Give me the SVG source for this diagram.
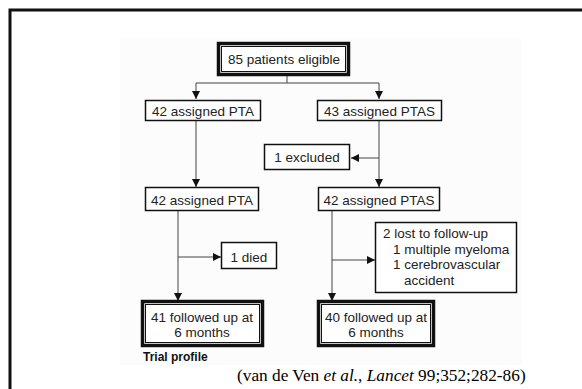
<svg xmlns="http://www.w3.org/2000/svg" width="582" height="389" viewBox="0 0 582 389">
<style>
.box{fill:#fff;stroke:#111;stroke-width:1.5}
.thick{fill:#fff;stroke:#111;stroke-width:3.5}
.inner{fill:none;stroke:#111;stroke-width:1}
.t{font-family:"Liberation Sans",Arial,sans-serif;font-size:13.5px;fill:#222;text-anchor:middle}
.tl{font-family:"Liberation Sans",Arial,sans-serif;font-size:13.5px;fill:#222}
.c{fill:none;stroke:#444;stroke-width:1}
</style>
<defs>
<marker id="ah" viewBox="0 0 8 8" refX="8" refY="4" markerWidth="8" markerHeight="8" markerUnits="userSpaceOnUse" orient="auto">
<path d="M0,0 L8,4 L0,8 Z" fill="#111"/>
</marker>
</defs>
<rect x="0" y="0" width="582" height="389" fill="#fff"/>
<rect x="10" y="10" width="600" height="400" fill="none" stroke="#111" stroke-width="3"/>
<rect x="120" y="38" width="402" height="327" fill="#fcfcfc"/>
<g id="connectors">
<path class="c" d="M287,76 V83"/>
<path class="c" d="M196,83 H379"/>
<path class="c" d="M196,83 V99" marker-end="url(#ah)"/>
<path class="c" d="M379,83 V99" marker-end="url(#ah)"/>
<path class="c" d="M196,121 V187" marker-end="url(#ah)"/>
<path class="c" d="M379,121 V187" marker-end="url(#ah)"/>
<path class="c" d="M379,158 H351" marker-end="url(#ah)"/>
<path class="c" d="M178,211 V301" marker-end="url(#ah)"/>
<path class="c" d="M178,257 H221" marker-end="url(#ah)"/>
<path class="c" d="M332,211 V301" marker-end="url(#ah)"/>
<path class="c" d="M332,260 H375" marker-end="url(#ah)"/>
</g>
<g id="n_eligible">
<rect class="thick" x="218.5" y="43.5" width="130" height="31"/>
<rect class="inner" x="221.5" y="46.5" width="124" height="25"/>
<text class="t" x="284" y="64" font-size="14">85 patients eligible</text>
</g>
<g id="n_pta1">
<rect class="box" x="145.5" y="100.5" width="115" height="20"/>
<text class="t" x="203" y="116">42 assigned PTA</text>
</g>
<g id="n_ptas1">
<rect class="box" x="317.5" y="100.5" width="124" height="20"/>
<text class="t" x="379.5" y="116">43 assigned PTAS</text>
</g>
<g id="n_excluded">
<rect class="box" x="264.5" y="144.5" width="85" height="25"/>
<text class="t" x="307" y="162">1 excluded</text>
</g>
<g id="n_pta2">
<rect class="box" x="145.5" y="187.5" width="113" height="23"/>
<text class="t" x="202" y="205">42 assigned PTA</text>
</g>
<g id="n_ptas2">
<rect class="box" x="318.5" y="187.5" width="121" height="23"/>
<text class="t" x="379" y="205">42 assigned PTAS</text>
</g>
<g id="n_died">
<rect class="box" x="221.5" y="242.5" width="55" height="26"/>
<text class="t" x="249" y="262">1 died</text>
</g>
<g id="n_lost">
<rect class="box" x="375.5" y="222.5" width="141" height="70"/>
<text class="tl" x="383" y="238">2 lost to follow-up</text>
<text class="tl" x="393" y="254">1 multiple myeloma</text>
<text class="tl" x="393" y="269">1 cerebrovascular</text>
<text class="tl" x="404" y="285">accident</text>
</g>
<g id="n_follow_pta">
<rect class="thick" x="142.5" y="301.5" width="120" height="44"/>
<rect class="inner" x="145.5" y="304.5" width="114" height="38"/>
<text class="t" x="202" y="322">41 followed up at</text>
<text class="t" x="202" y="337">6 months</text>
</g>
<g id="n_follow_ptas">
<rect class="thick" x="318.5" y="301.5" width="115" height="44"/>
<rect class="inner" x="321.5" y="304.5" width="109" height="38"/>
<text class="t" x="376" y="322">40 followed up at</text>
<text class="t" x="376" y="337">6 months</text>
</g>
<text x="143" y="361" font-family="'Liberation Sans',Arial,sans-serif" font-size="12" font-weight="bold" fill="#111">Trial profile</text>
<text x="237" y="381" font-family="'Liberation Serif','Times New Roman',serif" font-size="17.3" fill="#000">(van de Ven <tspan font-style="italic">et al.</tspan>, <tspan font-style="italic">Lancet</tspan> 99;352;282-86)</text>
</svg>
